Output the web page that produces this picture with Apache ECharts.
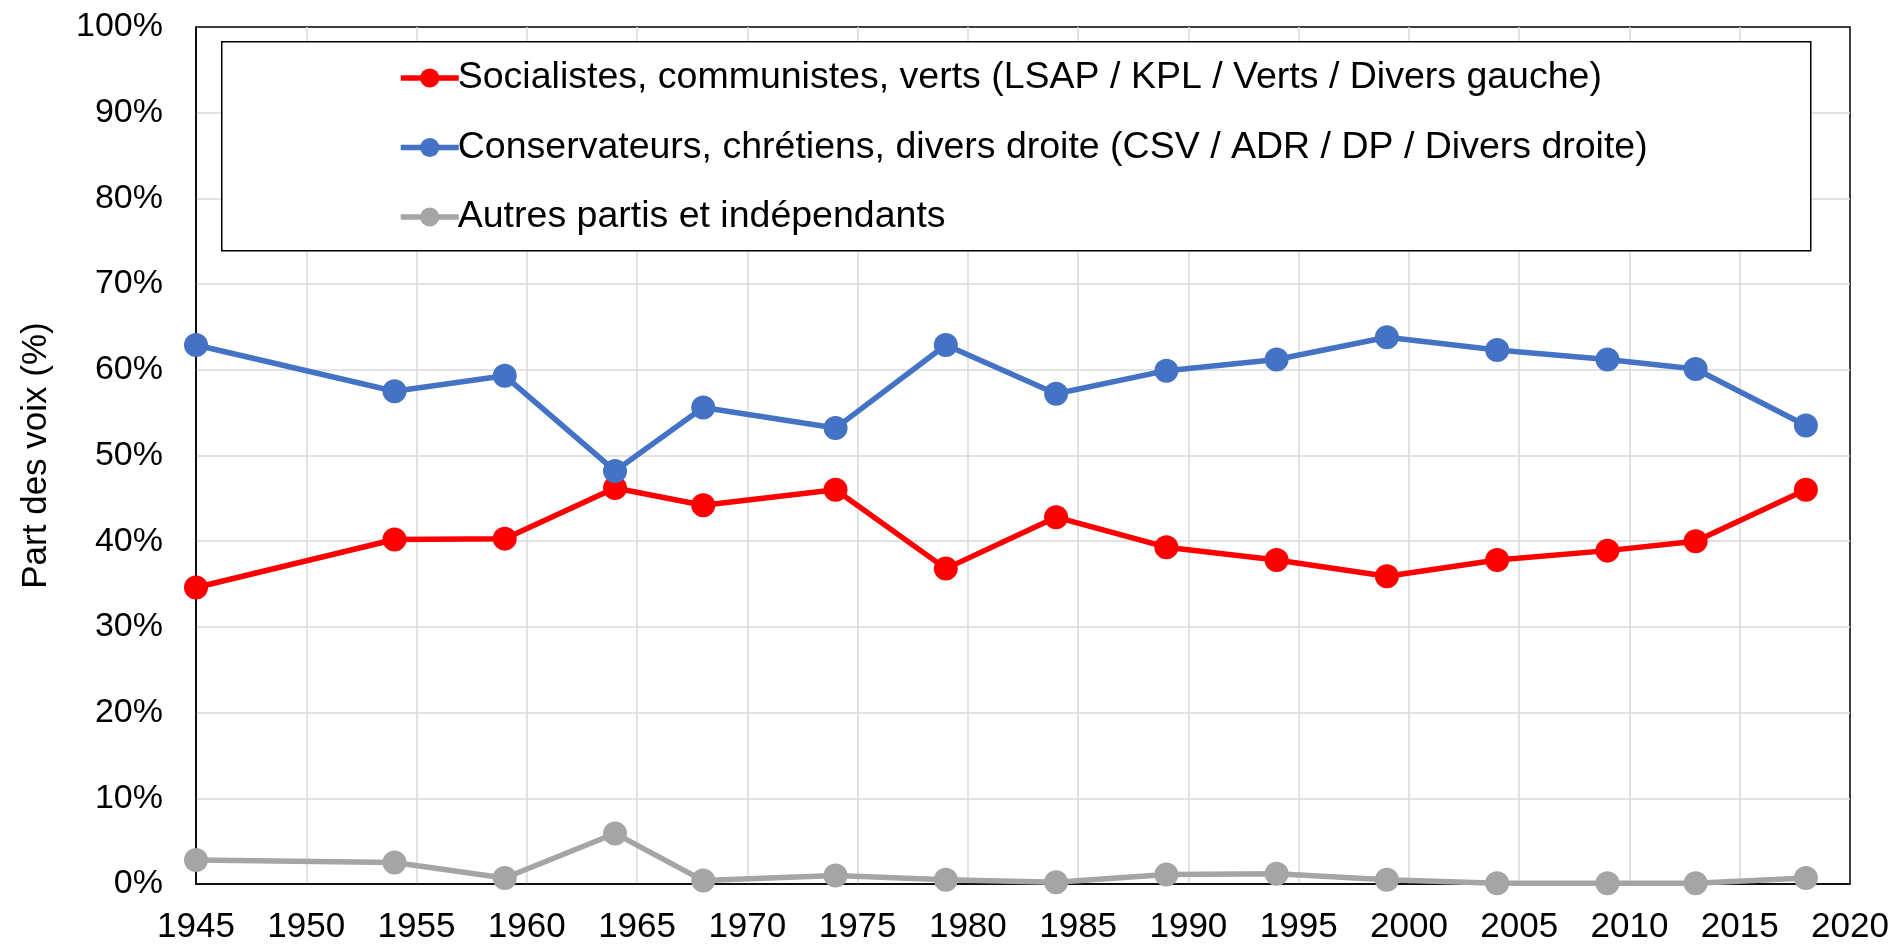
<!DOCTYPE html>
<html>
<head>
<meta charset="utf-8">
<title>Part des voix</title>
<script src="https://cdn.jsdelivr.net/npm/echarts@6/dist/echarts.min.js"></script>
<style>
  html, body { margin: 0; padding: 0; background: #fff; }
  #container { width: 1896px; height: 944px; }
</style>
</head>
<body>
<div id="container"></div>
<script>
// années d'élection
var years = [1945, 1954, 1959, 1964, 1968, 1974, 1979, 1984, 1989, 1994, 1999, 2004, 2009, 2013, 2018];

// parts des voix (%)
var gauche = [34.6, 40.2, 40.3, 46.2, 44.2, 46.0, 36.8, 42.8, 39.3, 37.8, 35.9, 37.8, 38.9, 40.0, 46.0];
var droite = [62.9, 57.5, 59.3, 48.2, 55.6, 53.2, 62.9, 57.2, 59.9, 61.2, 63.8, 62.3, 61.2, 60.1, 53.5];
var autres = [2.8, 2.5, 0.7, 5.9, 0.4, 1.0, 0.5, 0.2, 1.1, 1.2, 0.5, 0.1, 0.1, 0.1, 0.7];

var seriesNames = [
  'Socialistes, communistes, verts (LSAP / KPL / Verts / Divers gauche)',
  'Conservateurs, chrétiens, divers droite (CSV / ADR / DP / Divers droite)',
  'Autres partis et indépendants'
];
var colors = ['#ff0000', '#4472c4', '#a5a5a5'];

var font = '"Liberation Sans", Arial, sans-serif';

function pairs(vals) {
  var out = [];
  for (var i = 0; i < years.length; i++) {
    out.push([years[i], vals[i]]);
  }
  return out;
}

function makeSeries(name, vals, color) {
  return {
    name: name,
    type: 'line',
    data: pairs(vals),
    symbol: 'circle',
    symbolSize: 24,
    itemStyle: { color: color },
    lineStyle: { color: color, width: 5.5 },
    emphasis: { disabled: true },
    animation: false
  };
}

var myChart = echarts.init(document.getElementById('container'));

var option = {
  backgroundColor: '#fff',
  textStyle: { fontFamily: font },
  grid: {
    left: 196, right: 46, top: 27, bottom: 60,
    outerBoundsMode: 'none',
    containLabel: false,
    show: true, borderColor: '#000', borderWidth: 1.5
  },
  graphic: [{
    type: 'rect',
    left: 221, top: 41,
    shape: { width: 1589, height: 209 },
    style: { fill: '#fff', stroke: '#000', lineWidth: 1.5 },
    z: 5
  }],
  legend: {
    orient: 'vertical',
    left: 398, top: 57,
    padding: 0,
    itemWidth: 58, itemHeight: 24,
    itemGap: 27.5,
    z: 10,
    lineStyle: { width: 5.5 },
    textStyle: { fontFamily: font, fontSize: 37.5, color: '#000', lineHeight: 42, padding: [0, 0, 0, -6] },
    data: seriesNames
  },
  xAxis: {
    type: 'value',
    min: 1945, max: 2020, interval: 5,
    axisLine: { show: true, lineStyle: { color: '#000', width: 1.5 } },
    axisTick: { show: false },
    axisLabel: { fontFamily: font, fontSize: 35, color: '#000', margin: 26, formatter: function (v) { return String(v); } },
    splitLine: { show: true, showMinLine: false, showMaxLine: false, lineStyle: { color: '#d9d9d9', width: 1.5 } }
  },
  yAxis: {
    type: 'value',
    min: 0, max: 100, interval: 10,
    name: 'Part des voix (%)',
    nameLocation: 'middle',
    nameGap: 142,
    nameRotate: 90,
    nameTextStyle: { fontFamily: font, fontSize: 35, color: '#000' },
    axisLine: { show: true, lineStyle: { color: '#000', width: 1.5 } },
    axisTick: { show: false },
    axisLabel: { fontFamily: font, fontSize: 34, color: '#000', margin: 33, formatter: '{value}%' },
    splitLine: { show: true, showMinLine: false, showMaxLine: false, lineStyle: { color: '#d9d9d9', width: 1.5 } }
  },
  series: [
    makeSeries(seriesNames[0], gauche, colors[0]),
    makeSeries(seriesNames[1], droite, colors[1]),
    makeSeries(seriesNames[2], autres, colors[2])
  ]
};

myChart.setOption(option);
</script>
</body>
</html>
